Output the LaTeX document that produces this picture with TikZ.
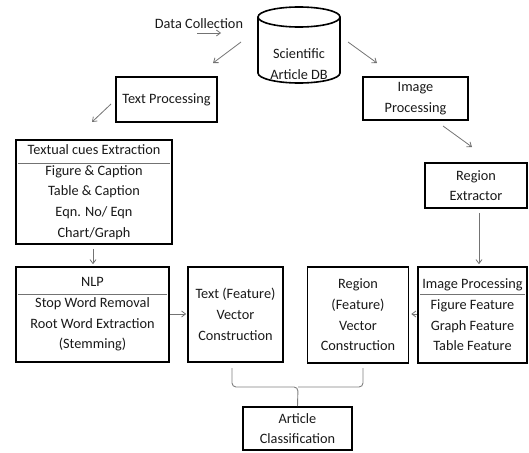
\documentclass[tikz,border=0pt]{standalone}
\usepackage{fontspec}
\setmainfont{Carlito}
\usetikzlibrary{arrows.meta}
\begin{document}
\begin{tikzpicture}[x=1pt,y=-1pt,
  txt/.style={inner sep=0pt, align=center, font=\fontsize{14.3}{20.7}\selectfont, text=black!90},
  box/.style={txt, draw=black, line width=1.6pt},
  conn/.style={draw=black!55, line width=0.8pt, -{Straight Barb[length=4pt,width=6pt]}},
  sepline/.style={draw=black!55, line width=0.9pt},
  bracel/.style={draw=black!50, line width=0.9pt, rounded corners=4pt}]
\useasboundingbox (0,0) rectangle (529,452);
% cylinder
\draw[line width=1.6pt] (258,17) -- (258,73) arc[start angle=180,end angle=360,x radius=41pt,y radius=10pt] -- (340,17);
\draw[line width=1.6pt] (299,17) ellipse [x radius=41pt, y radius=10pt];
\node[txt] (db) at (299,64) {Scientific\\Article DB};
\node[txt] (dc) at (199,24) {Data Collection};
% boxes
\node[box, minimum width=101pt, minimum height=45pt] (tp) at (166.5,99.5) {Text Processing};
\node[box, minimum width=105pt, minimum height=43pt] (ip) at (415.5,98.5) {Image\\Processing};
\node[box, minimum width=156pt, minimum height=104pt] (tc) at (94,192) {Textual cues Extraction\\Figure \& Caption\\Table \& Caption\\Eqn. No/ Eqn\\Chart/Graph};
\node[box, minimum width=102pt, minimum height=45pt] (re) at (476,185.5) {Region\\Extractor};
\node[box, minimum width=153pt, minimum height=95pt] (nlp) at (92.5,314.5) {NLP\\Stop Word Removal\\Root Word Extraction\\(Stemming)};
\node[box, minimum width=95pt, minimum height=95pt] (tv) at (235.5,314.5) {Text (Feature)\\Vector\\Construction};
\node[box, minimum width=101pt, minimum height=96pt] (rv) at (358,315) {Region\\(Feature)\\Vector\\Construction};
\node[box, minimum width=109pt, minimum height=96pt] (ipf) at (472.5,315) {Image Processing\\Figure Feature\\Graph Feature\\Table Feature};
\node[box, minimum width=109pt, minimum height=43pt] (ac) at (297.5,428.5) {Article\\Classification};
% separators
\draw[sepline] ([xshift=3pt]tc.west |- 0,163) -- ([xshift=-3pt]tc.east |- 0,163);
\draw[sepline] ([xshift=3pt]nlp.west |- 0,294) -- ([xshift=-3pt]nlp.east |- 0,294);
\draw[sepline] ([xshift=3pt]ipf.west |- 0,294) -- ([xshift=-3pt]ipf.east |- 0,294);
% connector coordinates
\coordinate (dcA) at (197,33); \coordinate (dcB) at (221,33);
\coordinate (dbL1) at (241,42); \coordinate (dbL2) at (213,63);
\coordinate (dbR1) at (348,42); \coordinate (dbR2) at (377,63);
\coordinate (tp1) at (111,104); \coordinate (tp2) at (92,122);
\coordinate (ip1) at (443,126); \coordinate (ip2) at (472,147);
% connectors
\draw[conn] (dcA) -- (dcB);
\draw[conn] (dbL1) -- (dbL2);
\draw[conn] (dbR1) -- (dbR2);
\draw[conn] (tp1) -- (tp2);
\draw[conn] (ip1) -- (ip2);
\draw[conn] ([yshift=-4pt]tc.south -| 93,0) -- ([yshift=2pt]nlp.north -| 93,0);
\draw[conn] ([yshift=-4pt]re.south -| 479,0) -- ([yshift=2pt]ipf.north -| 479,0);
\draw[conn] (nlp.east |- 0,314) -- ([xshift=-1pt]tv.west |- 0,314);
\draw[conn] (ipf.west |- 0,314) -- ([xshift=2pt]rv.east |- 0,314);
% brace
\coordinate (brL) at (232,368); \coordinate (brR) at (363,368);
\draw[bracel] (brL) -- (232,387) -- (298,387) -- (ac.north);
\draw[bracel] (brR) -- (363,387) -- (298,387);
\end{tikzpicture}
\end{document}
